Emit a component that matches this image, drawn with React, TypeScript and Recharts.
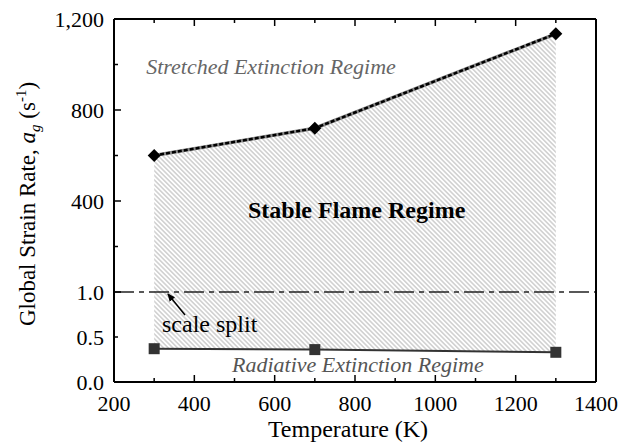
import React from 'react';
import { ComposedChart, Area, Line, XAxis, YAxis, ReferenceLine } from 'recharts';

// ---------- data ----------
const temperatures = [300, 700, 1300];
const stretchedRate = [600, 720, 1135]; // upper (split) scale, s^-1
const radiativeRate = [0.37, 0.36, 0.33]; // lower scale, s^-1

const xTicks = [200, 300, 400, 500, 600, 700, 800, 900, 1000, 1100, 1200, 1300, 1400];
const xTickLabels = ['200', '', '400', '', '600', '', '800', '', '1000', '', '1200', '', '1400'];

const yTicksLower = [0, 0.5, 1.0];
const yTickLowerLabels = ['0.0', '0.5', '1.0'];
const yTickLowerMajor = [true, false, true];
const yTicksUpper = [200, 400, 600, 800, 1000, 1200];
const yTickUpperLabels = ['', '400', '', '800', '', '1,200'];
const yTickUpperMajor = [false, true, false, true, false, true];

// ---------- split-scale transform ----------
const UPPER_SCALE = 91 / 90 / 400;
const toLower = (v: number) => v;
const toUpper = (v: number) => 1 + v * UPPER_SCALE;
const Y_TOP = toUpper(1200);

const data = temperatures.map((t, i) => ({
  T: t,
  up: toUpper(stretchedRate[i]),
  lo: toLower(radiativeRate[i]),
  band: [toLower(radiativeRate[i]), toUpper(stretchedRate[i])],
}));

const yTicks = [...yTicksLower.map(toLower), ...yTicksUpper.map(toUpper)];
const yLabels = [...yTickLowerLabels, ...yTickUpperLabels];
const yMajor = [...yTickLowerMajor, ...yTickUpperMajor];

const FONT = '"Liberation Serif", "Times New Roman", serif';
const MAJ = 7;
const MIN = 4;

const yIdx = (v: number) => yTicks.findIndex((t) => Math.abs(t - v) < 1e-6);
const xIdx = (v: number) => xTicks.findIndex((t) => Math.abs(t - v) < 1e-6);

const LeftTick = (p: any) => {
  const i = yIdx(p.payload.value);
  return (
    <g>
      <line x1={p.x} x2={p.x + (yMajor[i] ? MAJ : MIN)} y1={p.y} y2={p.y} stroke="#000" strokeWidth={1.5} />
      {yLabels[i] ? (
        <text x={p.x - 10} y={p.y + 8} textAnchor="end" fontSize={22} fontFamily={FONT} fill="#000">
          {yLabels[i]}
        </text>
      ) : null}
    </g>
  );
};
const RightTick = (p: any) => {
  const i = yIdx(p.payload.value);
  return <line x1={p.x} x2={p.x - (yMajor[i] ? MAJ : MIN)} y1={p.y} y2={p.y} stroke="#000" strokeWidth={1.5} />;
};
const BottomTick = (p: any) => {
  const i = xIdx(p.payload.value);
  const major = xTickLabels[i] !== '';
  return (
    <g>
      <line x1={p.x} x2={p.x} y1={p.y} y2={p.y - (major ? MAJ : MIN)} stroke="#000" strokeWidth={1.5} />
      {major ? (
        <text x={p.x} y={p.y + 29} textAnchor="middle" fontSize={22} fontFamily={FONT} fill="#000">
          {xTickLabels[i]}
        </text>
      ) : null}
    </g>
  );
};
const TopTick = (p: any) => {
  const i = xIdx(p.payload.value);
  const major = xTickLabels[i] !== '';
  return <line x1={p.x} x2={p.x} y1={p.y} y2={p.y + (major ? MAJ : MIN)} stroke="#000" strokeWidth={1.5} />;
};

const Diamond = (p: any) => {
  const { cx, cy } = p;
  const r = 6.5;
  return <path key={`d${p.index}`} d={`M${cx},${cy - r}L${cx + r},${cy}L${cx},${cy + r}L${cx - r},${cy}Z`} fill="#000" />;
};
const Square = (p: any) => {
  const { cx, cy } = p;
  const s = 5.5;
  return <rect key={`s${p.index}`} x={cx - s} y={cy - s} width={2 * s} height={2 * s} fill="#333" />;
};

export default function App() {
  return (
    <div style={{ position: 'absolute', left: 0, top: 0, width: 632, height: 445, background: '#fff' }}>
      <ComposedChart width={632} height={445} data={data} margin={{ top: 0, right: 0, bottom: 0, left: 0 }}>
        <defs>
          <pattern id="hatch" patternUnits="userSpaceOnUse" width="3.3" height="3.3" patternTransform="rotate(-45)">
            <line x1="1.65" y1="0" x2="1.65" y2="3.3" stroke="#a8a8a8" strokeWidth="0.85" />
          </pattern>
        </defs>
        <XAxis
          xAxisId="b"
          dataKey="T"
          type="number"
          domain={[200, 1400]}
          ticks={xTicks}
          interval={0}
          height={63}
          tickLine={false}
          tickSize={0}
          tickMargin={0}
          axisLine={{ stroke: '#000', strokeWidth: 2 }}
          tick={(p: any) => <BottomTick {...p} />}
        />
        <XAxis
          xAxisId="t"
          orientation="top"
          dataKey="T"
          type="number"
          domain={[200, 1400]}
          ticks={xTicks}
          interval={0}
          height={19}
          tickLine={false}
          tickSize={0}
          tickMargin={0}
          axisLine={{ stroke: '#000', strokeWidth: 2 }}
          tick={(p: any) => <TopTick {...p} />}
        />
        <YAxis
          yAxisId="l"
          type="number"
          domain={[0, Y_TOP]}
          ticks={yTicks}
          interval={0}
          width={114}
          tickLine={false}
          tickSize={0}
          tickMargin={0}
          axisLine={{ stroke: '#000', strokeWidth: 2 }}
          tick={(p: any) => <LeftTick {...p} />}
        />
        <YAxis
          yAxisId="r"
          orientation="right"
          type="number"
          domain={[0, Y_TOP]}
          ticks={yTicks}
          interval={0}
          width={36}
          tickLine={false}
          tickSize={0}
          tickMargin={0}
          axisLine={{ stroke: '#000', strokeWidth: 2 }}
          tick={(p: any) => <RightTick {...p} />}
        />
        <Area
          xAxisId="b"
          yAxisId="l"
          type="linear"
          dataKey="band"
          stroke="none"
          fill="url(#hatch)"
          fillOpacity={1}
          isAnimationActive={false}
        />
        <ReferenceLine xAxisId="b" yAxisId="l" y={1} stroke="#222" strokeWidth={1.5} strokeDasharray="20 5 5 5" />
        <Line
          xAxisId="b"
          yAxisId="l"
          type="linear"
          dataKey="lo"
          stroke="#333"
          strokeWidth={2}
          dot={(p: any) => <Square {...p} />}
          isAnimationActive={false}
        />
        <Line
          xAxisId="b"
          yAxisId="l"
          type="linear"
          dataKey="up"
          stroke="#888"
          strokeWidth={3.5}
          dot={false}
          isAnimationActive={false}
        />
        <Line
          xAxisId="b"
          yAxisId="l"
          type="linear"
          dataKey="up"
          stroke="#000"
          strokeWidth={2.5}
          strokeDasharray="4 2"
          dot={(p: any) => <Diamond {...p} />}
          isAnimationActive={false}
        />
      </ComposedChart>
      <svg
        width={632}
        height={445}
        style={{ position: 'absolute', left: 0, top: 0, pointerEvents: 'none' }}
        fontFamily={FONT}
      >
        <defs>
          <marker id="ah" markerWidth="8" markerHeight="8" refX="7" refY="4" orient="auto" markerUnits="userSpaceOnUse">
            <path d="M0,0.5 L8,4 L0,7.5 Z" fill="#000" />
          </marker>
        </defs>
        <text x={271} y={74} textAnchor="middle" fontSize={22} fontStyle="italic" fill="#666">
          Stretched Extinction Regime
        </text>
        <text x={248} y={218} fontSize={24} fontWeight="bold" fill="#000">
          Stable Flame Regime
        </text>
        <text x={232} y={372} fontSize={22} fontStyle="italic" fill="#555">
          Radiative Extinction Regime
        </text>
        <text x={162} y={332} fontSize={24} fill="#000">
          scale split
        </text>
        <line x1={185} y1={315} x2={168} y2={294} stroke="#000" strokeWidth={1.5} markerEnd="url(#ah)" />
        <text x={348} y={437} textAnchor="middle" fontSize={24} fill="#000">
          Temperature (K)
        </text>
        <text transform="rotate(-90)" x={-204} y={35} textAnchor="middle" fontSize={23} fill="#000">
          Global Strain Rate,{' '}
          <tspan fontStyle="italic">a</tspan>
          <tspan fontSize={15} fontStyle="italic" dy={5}>g</tspan>
          <tspan dy={-5}> (s</tspan>
          <tspan fontSize={15} dy={-9}>-1</tspan>
          <tspan dy={9}>)</tspan>
        </text>
      </svg>
    </div>
  );
}
